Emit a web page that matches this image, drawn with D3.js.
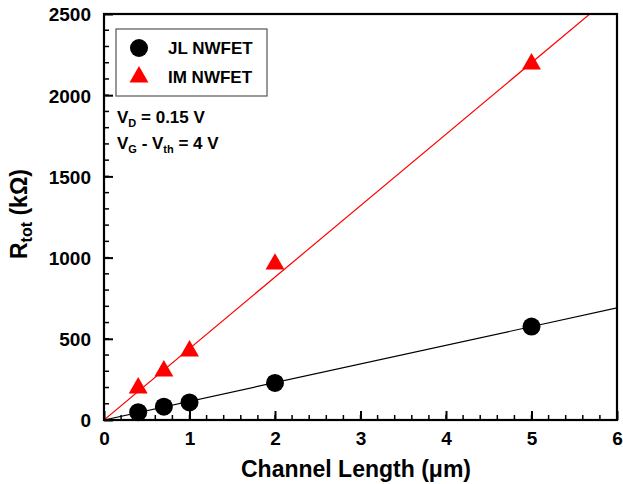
<!DOCTYPE html>
<html>
<head>
<meta charset="utf-8">
<script src="https://cdn.jsdelivr.net/npm/d3@7"></script>
<style>
  body { margin: 0; background: #fff; }
  text { font-family: "Liberation Sans", Arial, sans-serif; font-weight: bold; }
</style>
</head>
<body>
<svg id="chart" width="623" height="484"></svg>
<script>
// channel lengths (um)
var lengths = [0.4, 0.7, 1.0, 2.0, 5.0];
// total resistance (kOhm)
var jlValues = [48, 82, 108, 228, 575];
var imValues = [197, 302, 425, 960, 2192];
// slopes of the linear fits through the origin (kOhm / um)
var jlSlope = 115;
var imSlope = 440;
var xTicks = [0, 1, 2, 3, 4, 5, 6];
var yTicks = [0, 500, 1000, 1500, 2000, 2500];

var margin = {left: 104, right: 6, top: 14, bottom: 64};
var width = 623 - margin.left - margin.right;
var height = 484 - margin.top - margin.bottom;

var svg = d3.select("#chart");
var g = svg.append("g")
    .attr("transform", "translate(" + margin.left + "," + margin.top + ")");

var x = d3.scaleLinear().domain([0, 6]).range([0, width]);
var y = d3.scaleLinear().domain([0, 2500]).range([height, 0]);

// clip for fit lines
g.append("clipPath").attr("id", "clip")
    .append("rect").attr("width", width).attr("height", height);

// fit lines
function fitLine(slope, color) {
    var xs = [0, 6];
    g.append("line")
        .attr("clip-path", "url(#clip)")
        .attr("x1", x(xs[0])).attr("y1", y(slope * xs[0]))
        .attr("x2", x(xs[1])).attr("y2", y(slope * xs[1]))
        .attr("stroke", color)
        .attr("stroke-width", 1.2);
}
fitLine(jlSlope, "#000");
fitLine(imSlope, "#ff0000");

// minor ticks
var xMinor = d3.range(0, 6.001, 0.2);
var yMinor = d3.range(0, 2500.1, 100);

g.selectAll(".xminor").data(xMinor).enter().append("line")
    .attr("x1", function(d) { return x(d); })
    .attr("x2", function(d) { return x(d); })
    .attr("y1", height).attr("y2", height - 5)
    .attr("stroke", "#000").attr("stroke-width", 1.5);

g.selectAll(".yminor").data(yMinor).enter().append("line")
    .attr("x1", 0).attr("x2", 5)
    .attr("y1", function(d) { return y(d); })
    .attr("y2", function(d) { return y(d); })
    .attr("stroke", "#000").attr("stroke-width", 1.5);

// axes with inward major ticks
var xAxis = g.append("g")
    .attr("transform", "translate(0," + height + ")")
    .call(d3.axisBottom(x).tickValues(xTicks).tickFormat(d3.format("d"))
        .tickSizeInner(-9).tickSizeOuter(0).tickPadding(12));
var yAxis = g.append("g")
    .call(d3.axisLeft(y).tickValues(yTicks).tickFormat(d3.format("d"))
        .tickSizeInner(-9).tickSizeOuter(0).tickPadding(13));

[xAxis, yAxis].forEach(function(a) {
    a.select(".domain").remove();
    a.selectAll(".tick line").attr("stroke-width", 2);
    a.selectAll(".tick text")
        .style("font-size", "19px")
        .style("font-family", "'Liberation Sans', Arial, sans-serif")
        .style("font-weight", "bold")
        .attr("fill", "#000");
});
yAxis.selectAll(".tick text").attr("dy", "0.36em");

// frame
g.append("rect")
    .attr("width", width).attr("height", height)
    .attr("fill", "none").attr("stroke", "#000").attr("stroke-width", 2.2);

// data points
g.selectAll(".jl").data(lengths).enter().append("circle")
    .attr("cx", function(d) { return x(d); })
    .attr("cy", function(d, i) { return y(jlValues[i]); })
    .attr("r", 9)
    .attr("fill", "#000");

var tri = d3.symbol().type(d3.symbolTriangle).size(155);
g.selectAll(".im").data(lengths).enter().append("path")
    .attr("d", tri)
    .attr("transform", function(d, i) {
        return "translate(" + x(d) + "," + y(imValues[i]) + ")";
    })
    .attr("fill", "#ff0000");

// legend
var legend = svg.append("g");
legend.append("rect")
    .attr("x", 116).attr("y", 29).attr("width", 151).attr("height", 67)
    .attr("fill", "#fff").attr("stroke", "#555").attr("stroke-width", 1.2);
legend.append("circle").attr("cx", 139).attr("cy", 48).attr("r", 9).attr("fill", "#000");
legend.append("path").attr("d", tri)
    .attr("transform", "translate(139,77)").attr("fill", "#ff0000");
legend.append("text").attr("x", 168).attr("y", 54)
    .style("font-size", "17px").text("JL NWFET");
legend.append("text").attr("x", 168).attr("y", 83)
    .style("font-size", "17px").text("IM NWFET");

// conditions
var t1 = svg.append("text").attr("x", 117).attr("y", 123).style("font-size", "17px");
t1.append("tspan").text("V");
t1.append("tspan").attr("dy", 4).style("font-size", "11px").text("D");
t1.append("tspan").attr("dy", -4).text(" = 0.15 V");

var t2 = svg.append("text").attr("x", 117).attr("y", 149).style("font-size", "17px");
t2.append("tspan").text("V");
t2.append("tspan").attr("dy", 4).style("font-size", "11px").text("G");
t2.append("tspan").attr("dy", -4).text(" - V");
t2.append("tspan").attr("dy", 4).style("font-size", "11px").text("th");
t2.append("tspan").attr("dy", -4).text(" = 4 V");

// axis titles
svg.append("text")
    .attr("x", 356).attr("y", 477)
    .attr("text-anchor", "middle")
    .style("font-size", "23px")
    .text("Channel Length (\u03bcm)");

var yt = svg.append("text")
    .attr("transform", "translate(27,214) rotate(-90)")
    .attr("text-anchor", "middle")
    .style("font-size", "23px");
yt.append("tspan").text("R");
yt.append("tspan").attr("dy", 5).style("font-size", "16px").text("tot");
yt.append("tspan").attr("dy", -5).text(" (k\u03a9)");
</script>
</body>
</html>
